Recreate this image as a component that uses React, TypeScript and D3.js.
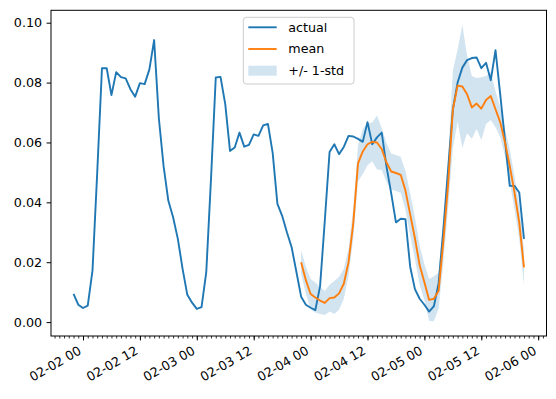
import React, { useEffect, useRef } from "react";
import * as d3 from "d3";

// hourly readings, first one is 02-01 22:00
const ACTUAL_START = Date.UTC(2021, 1, 1, 22);
const actual = [
  0.0094, 0.0058, 0.0047, 0.0055, 0.0172, 0.05, 0.0848, 0.0848, 0.0758, 0.0835,
  0.0818, 0.0814, 0.0778, 0.0753, 0.0798, 0.0795, 0.0844, 0.0942, 0.068, 0.052,
  0.0405, 0.035, 0.0278, 0.0178, 0.0091, 0.0065, 0.0044, 0.005, 0.0168, 0.048,
  0.0817, 0.0819, 0.0728, 0.0572, 0.0583, 0.0633, 0.0586, 0.0592, 0.0627, 0.0622,
  0.0657, 0.0662, 0.0565, 0.0395, 0.0355, 0.03, 0.025, 0.0168, 0.0085, 0.0058,
  0.0048, 0.004, 0.012, 0.034, 0.0568, 0.0594, 0.0561, 0.0585, 0.0622, 0.062,
  0.0612, 0.0602, 0.0668, 0.0594, 0.0617, 0.0633, 0.052, 0.043, 0.0333, 0.0345,
  0.0344, 0.0185, 0.011, 0.0078, 0.0058, 0.0035, 0.0053, 0.013, 0.031, 0.051,
  0.071, 0.08, 0.085, 0.0875, 0.0882, 0.0884, 0.0848, 0.0866, 0.0808, 0.0908,
  0.0759, 0.0607, 0.0455, 0.0455, 0.0433, 0.0278,
];

// forecast starts 02-03 22:00
const MEAN_START = Date.UTC(2021, 1, 3, 22);
const mean = [
  0.02, 0.014, 0.0094, 0.0082, 0.0072, 0.0064, 0.008, 0.0082, 0.0096, 0.0128,
  0.02, 0.033, 0.053, 0.057, 0.0594, 0.0602, 0.06, 0.0578, 0.0533, 0.0503,
  0.0498, 0.0492, 0.044, 0.036, 0.028, 0.019, 0.0133, 0.0074, 0.0078, 0.0105,
  0.027, 0.046, 0.071, 0.079, 0.0787, 0.0761, 0.0717, 0.073, 0.0713, 0.0742,
  0.0755, 0.0711, 0.0667, 0.06, 0.0522, 0.0433, 0.0333, 0.0183,
];
const std = [
  0.004, 0.0045, 0.005, 0.005, 0.0045, 0.004, 0.0045, 0.0055, 0.0055, 0.005,
  0.0045, 0.005, 0.006, 0.0075, 0.007, 0.0065, 0.009, 0.007, 0.0065, 0.006,
  0.006, 0.006, 0.0065, 0.007, 0.007, 0.0065, 0.006, 0.007, 0.0075, 0.006,
  0.007, 0.008, 0.013, 0.012, 0.0205, 0.013, 0.0105, 0.0085, 0.0105, 0.008,
  0.008, 0.006, 0.005, 0.0045, 0.0055, 0.0055, 0.0055, 0.006,
];

const yTicks = [0, 0.02, 0.04, 0.06, 0.08, 0.1];
const legendLabels = ["actual", "mean", "+/- 1-std"];

const W = 556, H = 399;
const margin = { l: 51, r: 9.5, t: 10.3, b: 63 };
const BLUE = "#1f77b4", ORANGE = "#ff7f0e";
const FONT = "DejaVu Sans";
const FS = 12.7;
const HOUR = 3600 * 1000;

export default function App() {
  const ref = useRef<SVGSVGElement>(null);

  useEffect(() => {
    const svg = d3.select(ref.current);
    svg.selectAll("*").remove();

    const tA = (i: number) => new Date(ACTUAL_START + i * HOUR);
    const tM = (i: number) => new Date(MEAN_START + i * HOUR);

    // matplotlib style 5% margins
    const t0 = ACTUAL_START, t1 = ACTUAL_START + (actual.length - 1) * HOUR;
    const xPad = (t1 - t0) * 0.05;
    const lo = Math.min(d3.min(actual)!, d3.min(mean, (m, i) => m - std[i])!);
    const hi = Math.max(d3.max(actual)!, d3.max(mean, (m, i) => m + std[i])!);
    const yPad = (hi - lo) * 0.05;

    const x = d3.scaleUtc()
      .domain([new Date(t0 - xPad), new Date(t1 + xPad)])
      .range([margin.l, W - margin.r]);
    const y = d3.scaleLinear()
      .domain([lo - yPad, hi + yPad])
      .range([H - margin.b, margin.t]);

    const plot = svg.append("g");

    // std band first, sits under the lines
    const band = d3.area<number>()
      .x((d, i) => x(tM(i)))
      .y0((d, i) => y(d - std[i]))
      .y1((d, i) => y(d + std[i]));
    plot.append("path")
      .attr("d", band(mean))
      .attr("fill", BLUE)
      .attr("fill-opacity", 0.2);

    const lineA = d3.line<number>().x((d, i) => x(tA(i))).y((d) => y(d));
    const lineM = d3.line<number>().x((d, i) => x(tM(i))).y((d) => y(d));

    plot.append("path")
      .attr("d", lineA(actual))
      .attr("fill", "none")
      .attr("stroke", BLUE)
      .attr("stroke-width", 1.9)
      .attr("stroke-linejoin", "round");

    plot.append("path")
      .attr("d", lineM(mean))
      .attr("fill", "none")
      .attr("stroke", ORANGE)
      .attr("stroke-width", 1.9)
      .attr("stroke-linejoin", "round");

    // axes
    const bottom = H - margin.b;
    const yAxis = d3.axisLeft(y)
      .tickValues(yTicks)
      .tickFormat(d3.format(".2f"))
      .tickSize(4.4)
      .tickPadding(4.5);
    const gy = svg.append("g")
      .attr("transform", `translate(${margin.l},0)`)
      .call(yAxis);
    gy.select(".domain").remove();

    const minor = d3.axisBottom(x)
      .ticks(d3.utcHour.every(1))
      .tickFormat(() => "")
      .tickSize(2.5);
    const gMinor = svg.append("g")
      .attr("transform", `translate(0,${bottom})`)
      .call(minor);
    gMinor.select(".domain").remove();
    gMinor.selectAll(".tick line").attr("stroke-width", 0.8);

    const xAxis = d3.axisBottom(x)
      .ticks(d3.utcHour.every(12))
      .tickFormat((d) => d3.utcFormat("%m-%d %H")(d as Date))
      .tickSize(4.4);
    const gx = svg.append("g")
      .attr("transform", `translate(0,${bottom})`)
      .call(xAxis);
    gx.select(".domain").remove();
    // rotated like fig.autofmt_xdate()
    gx.selectAll(".tick text")
      .attr("x", 0)
      .attr("y", 0)
      .attr("dy", 0)
      .attr("text-anchor", "end")
      .attr("transform", "translate(-1.3,17.3) rotate(-30)");

    svg.selectAll(".tick text")
      .attr("fill", "#000")
      .style("font-family", FONT)
      .style("font-size", FS + "px");
    svg.selectAll(".tick line").attr("stroke", "#000");

    // frame
    svg.append("rect")
      .attr("x", margin.l)
      .attr("y", margin.t)
      .attr("width", W - margin.l - margin.r)
      .attr("height", bottom - margin.t)
      .attr("fill", "none")
      .attr("stroke", "#000")
      .attr("stroke-width", 1);

    // legend
    const lg = svg.append("g").attr("transform", "translate(243.3,17.3)");
    lg.append("rect")
      .attr("width", 110.7)
      .attr("height", 66.7)
      .attr("rx", 3)
      .attr("fill", "white")
      .attr("fill-opacity", 0.8)
      .attr("stroke", "#cccccc")
      .attr("stroke-width", 1);

    legendLabels.forEach((lab, i) => {
      const cy = 10 + i * 21.7;
      if (i < 2) {
        lg.append("line")
          .attr("x1", 5).attr("x2", 33.4)
          .attr("y1", cy).attr("y2", cy)
          .attr("stroke", i === 0 ? BLUE : ORANGE)
          .attr("stroke-width", 1.9);
      } else {
        lg.append("rect")
          .attr("x", 5).attr("y", cy - 5)
          .attr("width", 28.4).attr("height", 10)
          .attr("fill", BLUE)
          .attr("fill-opacity", 0.2);
      }
      lg.append("text")
        .attr("x", 45)
        .attr("y", cy)
        .attr("dy", "0.35em")
        .text(lab)
        .style("font-family", FONT)
        .style("font-size", FS + "px");
    });
  }, []);

  return (
    <svg
      ref={ref}
      width={W}
      height={H}
      style={{ position: "absolute", left: 0, top: 0, background: "white" }}
    />
  );
}
